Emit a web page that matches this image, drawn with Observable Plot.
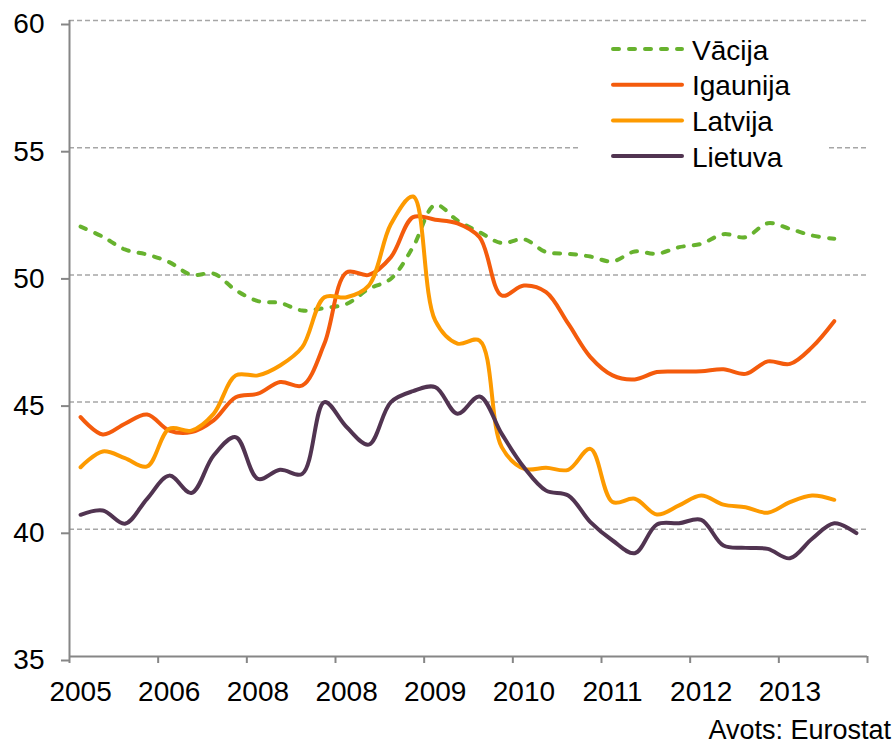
<!DOCTYPE html>
<html><head><meta charset="utf-8">
<script src="https://cdn.jsdelivr.net/npm/d3@7"></script>
<script src="https://cdn.jsdelivr.net/npm/@observablehq/plot@0.6"></script>
<style>
body{margin:0;background:#fff;font-family:"Liberation Sans",Arial,sans-serif;}
#wrap{position:relative;width:895px;height:745px;overflow:hidden;background:#fff;}
#chart{position:absolute;left:0;top:0;}
#legend{position:absolute;left:578px;top:28px;}
#caption{position:absolute;right:4px;top:718px;font-size:27px;line-height:24px;height:24px;color:#000;white-space:nowrap;}
</style></head><body>
<div id="wrap"><div id="chart"></div><svg id="legend" width="250" height="145"></svg><div id="caption">Avots: Eurostat</div></div>
<script>
const yearLabels = ["2005","2006","2008","2008","2009","2010","2011","2012","2013"];
const yTicks = [35,40,45,50,55,60];
const gridValues = [40,45,50,55,60];
const seriesNames = ["Vācija","Igaunija","Latvija","Lietuva"];
const vacija = [51.9,51.5,51.0,50.8,50.5,50.0,50.05,49.4,48.97,48.9,48.6,48.7,48.86,49.45,49.85,51.1,52.75,52.14,51.68,51.25,51.4,50.9,50.83,50.72,50.53,50.92,50.83,51.09,51.22,51.6,51.48,52.03,51.81,51.55,51.42];
const igaunija = [44.41,43.73,44.15,44.51,43.88,43.82,44.28,45.19,45.33,45.79,45.65,47.3,50.1,50.0,50.7,52.27,52.17,52.03,51.48,49.19,49.58,49.32,48.08,46.77,46.05,45.89,46.18,46.2,46.21,46.29,46.11,46.6,46.5,47.16,48.18];
const latvija = [42.44,43.06,42.8,42.47,43.95,43.88,44.54,46.05,46.05,46.44,47.16,49.12,49.12,49.58,52.0,53.08,48.2,47.3,47.42,43.23,42.38,42.42,42.34,43.16,41.07,41.2,40.58,40.94,41.33,40.97,40.87,40.65,41.07,41.33,41.16];
const lietuva = [40.57,40.74,40.22,41.2,42.11,41.43,42.9,43.62,41.98,42.34,42.18,45.0,44.02,43.33,45.0,45.43,45.59,44.54,45.22,43.75,42.44,41.52,41.33,40.28,39.56,39.06,40.19,40.24,40.37,39.36,39.27,39.23,38.86,39.63,40.24,39.85];
const colors = ["#67b22e","#f45b0c","#fd9a00","#513451"];
const dashes = ["6,10", null, null, null];

const seriesValues = [vacija, igaunija, latvija, lietuva];
const nQuarters = yearLabels.length * 4;
const tickBounds = d3.range(yearLabels.length + 1).map(i => i * 4 - 0.5);
const labelPos = yearLabels.map((_, i) => i * 4);

const lineMarks = seriesValues.map((vals, k) => Plot.line(vals, {
  x: (d, i) => i, y: d => d, stroke: colors[k], strokeWidth: 4,
  strokeDasharray: dashes[k] || undefined, strokeLinecap: "round",
  curve: "catmull-rom"
}));

const chart = Plot.plot({
  width: 895, height: 745,
  marginLeft: 69, marginRight: 28, marginTop: 20, marginBottom: 89,
  style: {fontFamily: '"Liberation Sans", Arial, sans-serif', fontSize: "28px", color: "#000", background: "#fff"},
  x: {domain: [-0.5, nQuarters - 0.5]},
  y: {domain: [35, 60]},
  marks: [
    Plot.ruleY(gridValues, {stroke: "#a6a6a6", strokeWidth: 1.5, strokeDasharray: "5,3"}),
    Plot.ruleX([-0.5], {stroke: "#868686", strokeWidth: 2}),
    Plot.ruleY([35], {stroke: "#868686", strokeWidth: 2}),
    Plot.axisY({ticks: yTicks, tickSize: 8, tickPadding: 17, tickFormat: d => String(d), stroke: "#868686", strokeWidth: 2, fill: "#000", fontSize: 28, dy: 4, label: null}),
    Plot.axisX({ticks: tickBounds, tickSize: 7, tickFormat: () => "", stroke: "#868686", strokeWidth: 2, label: null}),
    Plot.axisX({ticks: labelPos, tickSize: 0, tickPadding: 25, tickFormat: d => yearLabels[Math.round(d / 4)], fill: "#000", fontSize: 28, label: null}),
    ...lineMarks
  ]
});
document.getElementById("chart").appendChild(chart);

// legend
const lg = d3.select("#legend");
lg.append("rect").attr("width", 250).attr("height", 145).attr("fill", "#fff");
seriesNames.forEach((name, k) => {
  const y = 21 + k * 35.7;
  lg.append("line").attr("x1", 35).attr("x2", 104).attr("y1", y).attr("y2", y)
    .attr("stroke", colors[k]).attr("stroke-width", 4).attr("stroke-linecap", "round")
    .attr("stroke-dasharray", dashes[k]);
  lg.append("text").attr("x", 114).attr("y", y + 10.5).text(name)
    .attr("font-size", 28).attr("font-family", '"Liberation Sans", Arial, sans-serif').attr("fill", "#000");
});
</script>
</body></html>
